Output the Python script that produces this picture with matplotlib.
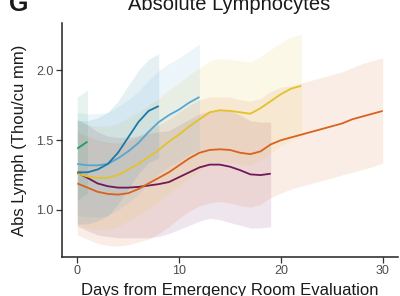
import matplotlib
matplotlib.use("Agg")
import matplotlib.pyplot as plt

plt.rcParams['font.family'] = ['Liberation Sans', 'DejaVu Sans']

title = "Absolute Lymphocytes"
panel = "G"
xlabel = "Days from Emergency Room Evaluation"
ylabel = "Abs Lymph (Thou/cu mm)"
xticks = [0, 10, 20, 30]
yticks = [1.0, 1.5, 2.0]

# series: days, fitted value, lower and upper bounds of ribbon
purple_x = list(range(0, 20))
purple_y = [1.267, 1.23, 1.19, 1.17, 1.16, 1.16, 1.165, 1.175, 1.185, 1.20, 1.235, 1.27, 1.305, 1.325, 1.325, 1.31, 1.285, 1.255, 1.25, 1.26]
purple_lo = [0.885, 0.85, 0.82, 0.81, 0.80, 0.80, 0.80, 0.80, 0.81, 0.83, 0.86, 0.89, 0.92, 0.94, 0.93, 0.91, 0.89, 0.87, 0.87, 0.88]
purple_hi = [1.65, 1.61, 1.56, 1.53, 1.52, 1.52, 1.53, 1.55, 1.56, 1.57, 1.61, 1.65, 1.69, 1.71, 1.72, 1.71, 1.68, 1.64, 1.63, 1.63]

orange_x = list(range(0, 31))
orange_y = [1.19, 1.16, 1.13, 1.115, 1.11, 1.12, 1.15, 1.19, 1.23, 1.27, 1.32, 1.37, 1.41, 1.43, 1.435, 1.43, 1.41, 1.40, 1.42, 1.47, 1.50, 1.52, 1.54, 1.56, 1.58, 1.60, 1.62, 1.65, 1.67, 1.69, 1.71]
orange_lo = [0.82, 0.79, 0.76, 0.745, 0.74, 0.75, 0.77, 0.79, 0.83, 0.88, 0.94, 0.99, 1.03, 1.05, 1.06, 1.05, 1.03, 1.02, 1.04, 1.09, 1.12, 1.15, 1.17, 1.19, 1.21, 1.23, 1.25, 1.27, 1.29, 1.31, 1.335]
orange_hi = [1.56, 1.53, 1.50, 1.485, 1.48, 1.49, 1.53, 1.57, 1.61, 1.65, 1.70, 1.75, 1.79, 1.81, 1.81, 1.81, 1.79, 1.78, 1.80, 1.85, 1.88, 1.89, 1.91, 1.93, 1.95, 1.97, 1.99, 2.02, 2.05, 2.07, 2.09]

yellow_x = list(range(0, 23))
yellow_y = [1.26, 1.24, 1.23, 1.23, 1.25, 1.29, 1.33, 1.38, 1.43, 1.49, 1.54, 1.60, 1.65, 1.70, 1.715, 1.71, 1.70, 1.69, 1.73, 1.78, 1.83, 1.87, 1.89]
yellow_lo = [0.89, 0.87, 0.86, 0.86, 0.88, 0.92, 0.96, 1.01, 1.06, 1.12, 1.17, 1.23, 1.28, 1.33, 1.345, 1.34, 1.33, 1.32, 1.36, 1.41, 1.46, 1.50, 1.52]
yellow_hi = [1.63, 1.61, 1.60, 1.60, 1.62, 1.66, 1.70, 1.75, 1.80, 1.86, 1.91, 1.97, 2.02, 2.07, 2.085, 2.08, 2.07, 2.06, 2.10, 2.15, 2.20, 2.24, 2.26]

mblue_x = list(range(0, 13))
mblue_y = [1.33, 1.32, 1.32, 1.33, 1.37, 1.42, 1.48, 1.56, 1.63, 1.68, 1.72, 1.77, 1.81]
mblue_lo = [0.96, 0.95, 0.95, 0.96, 1.00, 1.05, 1.11, 1.19, 1.26, 1.31, 1.35, 1.40, 1.43]
mblue_hi = [1.70, 1.69, 1.69, 1.70, 1.74, 1.79, 1.85, 1.93, 2.00, 2.05, 2.09, 2.14, 2.19]

dblue_x = list(range(0, 9))
dblue_y = [1.27, 1.27, 1.29, 1.33, 1.41, 1.52, 1.63, 1.71, 1.745]
dblue_lo = [0.90, 0.90, 0.92, 0.96, 1.04, 1.15, 1.26, 1.34, 1.37]
dblue_hi = [1.64, 1.64, 1.66, 1.70, 1.78, 1.89, 2.00, 2.08, 2.12]

green_x = [0, 1]
green_y = [1.44, 1.49]
green_lo = [1.07, 1.12]
green_hi = [1.81, 1.86]

series = [
    (purple_x, purple_y, purple_lo, purple_hi, "#701858"),
    (orange_x, orange_y, orange_lo, orange_hi, "#d9621e"),
    (yellow_x, yellow_y, yellow_lo, yellow_hi, "#e3c22a"),
    (mblue_x, mblue_y, mblue_lo, mblue_hi, "#56a6d4"),
    (dblue_x, dblue_y, dblue_lo, dblue_hi, "#1b78a8"),
    (green_x, green_y, green_lo, green_hi, "#239a6a"),
]

fig = plt.figure(figsize=(4.0, 2.96), dpi=100)
ax = fig.add_axes([0.155, 0.132, 0.84, 0.79])

for x, y, lo, hi, c in series:
    ax.fill_between(x, lo, hi, color=c, alpha=0.11, linewidth=0)
for x, y, lo, hi, c in series:
    ax.plot(x, y, color=c, linewidth=1.3, solid_capstyle='butt')

ax.set_xlim(-1.5, 31.5)
ax.set_ylim(0.663, 2.34)
ax.set_xticks(xticks)
ax.set_xticklabels([str(v) for v in xticks])
ax.set_yticks(yticks)
ax.set_yticklabels([f"{v:.1f}" for v in yticks])
for s in ['top', 'right']:
    ax.spines[s].set_visible(False)
for s in ['left', 'bottom']:
    ax.spines[s].set_linewidth(1.1)
    ax.spines[s].set_color('#222222')
ax.tick_params(axis='both', length=4, width=0.9, color='#333333', labelcolor='#4d4d4d', labelsize=9, pad=2)

fig.text(0.575, 1 - 295 / 296, xlabel, ha='center', va='baseline', fontsize=12, color='#1a1a1a')
fig.text(20 / 400, 0.132 + 0.79 / 2, ylabel, ha='center', va='center', rotation=90, fontsize=12, color='#1a1a1a')
fig.text(0.5725, 1 - 10 / 296, title, ha='center', va='baseline', fontsize=14.5, color='#1a1a1a')
fig.text(9 / 400, 1 - 11 / 296, panel, ha='left', va='baseline', fontsize=18, fontweight='bold', color='#1a1a1a')

fig.savefig("out.png", dpi=100)
